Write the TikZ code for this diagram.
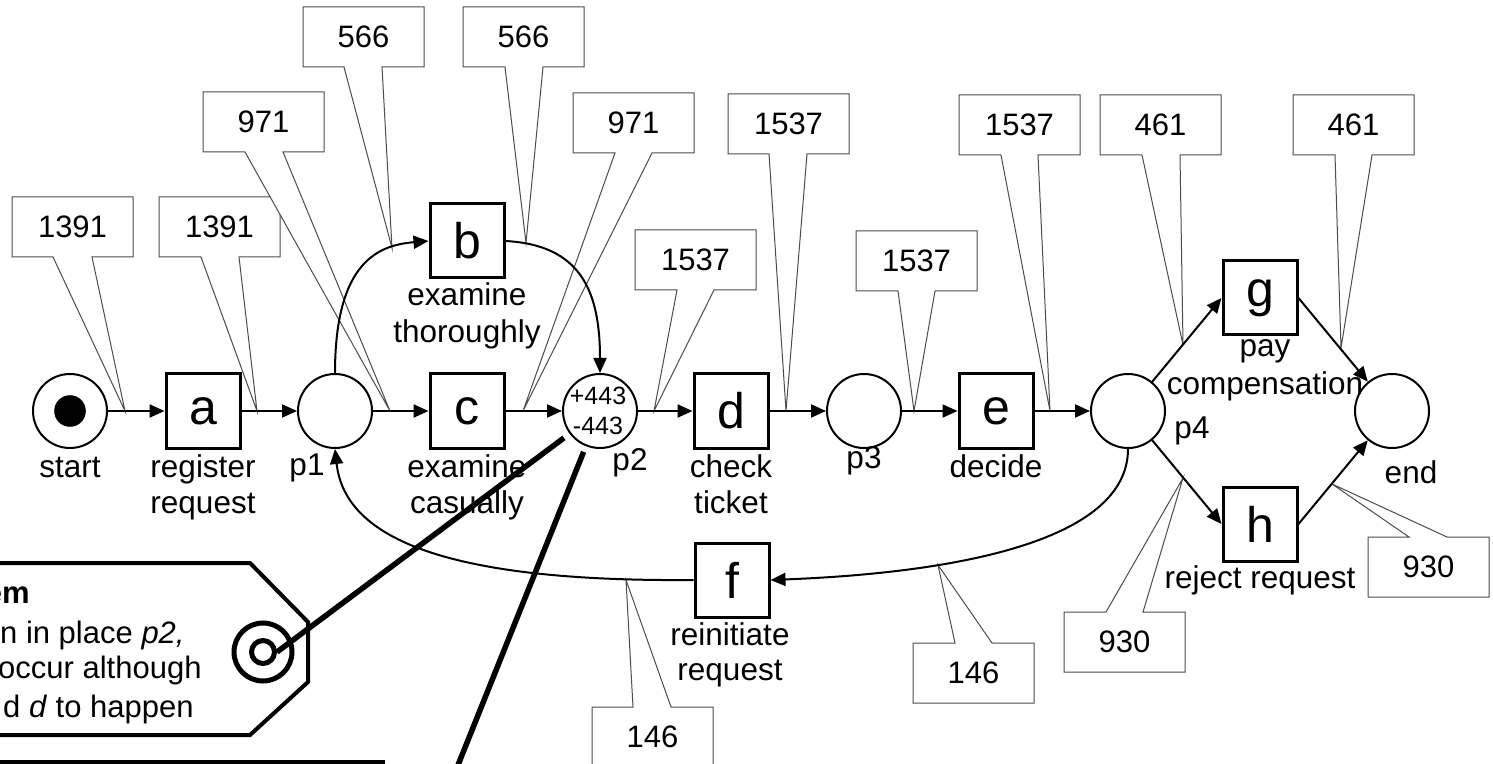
\documentclass[tikz,border=0pt]{standalone}
\usepackage{fontspec}
\setmainfont{Liberation Sans}
\usetikzlibrary{arrows.meta}
\newcommand{\calloutB}[8]{%
  \coordinate (#1tip) at (#6,#7);
  \filldraw[calloutline] (#2,#3) -- ({#2+121},#3) -- ({#2+121},{#3+60}) -- (#5,{#3+60}) -- (#1tip) -- (#4,{#3+60}) -- (#2,{#3+60}) -- cycle;
  \node[numtext] (#1) at ({#2+60.5},{#3+30}) {#8};
}
\newcommand{\calloutT}[8]{%
  \coordinate (#1tip) at (#6,#7);
  \filldraw[calloutline] (#2,#3) -- (#4,#3) -- (#1tip) -- (#5,#3) -- ({#2+121},#3) -- ({#2+121},{#3+60}) -- (#2,{#3+60}) -- cycle;
  \node[numtext] (#1) at ({#2+60.5},{#3+30}) {#8};
}
\tikzset{
  place/.style={circle, draw, line width=1pt, minimum size=37pt, inner sep=0pt, fill=white},
  trans/.style={rectangle, draw, line width=1.5pt, minimum size=37pt, inner sep=0pt, fill=white, font=\fontsize{25}{28}\selectfont},
  pnarc/.style={line width=1pt, -{Triangle[length=7.5pt,width=6.5pt]}},
  lbl/.style={anchor=base, inner sep=0pt, font=\fontsize{15.75}{18}\selectfont},
  numtext/.style={inner sep=0pt, font=\fontsize{15.5}{18}\selectfont},
  calloutline/.style={draw=black!70, fill=white, line width=0.5pt},
  tagtext/.style={anchor=base east, inner sep=0pt, font=\fontsize{15.5}{18}\selectfont},
  tagline/.style={line width=2pt, line join=miter},
  thickline/.style={line width=2.75pt},
}
\begin{document}
\begin{tikzpicture}[x=0.5pt, y=-0.5pt]
\useasboundingbox (0,0) rectangle (1493,764);
\clip (0,0) rectangle (1493,764);
\fill[white] (0,0) rectangle (1493,764);

% frequency callouts
\calloutB{n1}{12}{197}{53}{92}{125}{411}{1391}
\calloutB{n2}{159}{197}{201}{239}{257}{411}{1391}
\calloutB{n3}{203}{92}{245}{283}{390}{411}{971}
\calloutB{n4}{303}{7}{344}{382}{392}{248}{566}
\calloutB{n5}{463}{7}{505}{543}{526}{243}{566}
\calloutB{n6}{573}{93}{615}{652}{523}{411}{971}
\calloutB{n7}{635}{230}{677}{714}{654}{411}{1537}
\calloutB{n8}{728}{94}{769}{807}{786}{411}{1537}
\calloutB{n9}{856}{231}{898}{935}{914}{411}{1537}
\calloutB{n10}{959}{95}{1001}{1038}{1050}{411}{1537}
\calloutB{n11}{1100}{95}{1142}{1180}{1183}{345}{461}
\calloutB{n12}{1293}{95}{1335}{1372}{1341}{348}{461}
\calloutT{n13}{1368}{537}{1409}{1447}{1332}{484}{930}
\calloutT{n14}{1064}{612}{1106}{1143}{1183}{478}{930}
\calloutT{n15}{913}{643}{955}{992}{938}{565}{146}
\calloutT{n16}{592}{707}{633}{671}{626}{580}{146}

% places and transitions
\node[place] (start) at (70,411) {};
\node[circle, fill=black, minimum size=15.8pt, inner sep=0pt] (tok) at (70,411) {};
\node[trans] (a) at (203,411) {a};
\node[place] (p1) at (335,411) {};
\node[trans] (b) at (467,241) {b};
\node[trans] (c) at (467,411) {c};
\node[place] (p2) at (600,411) {};
\node[trans] (d) at (731,411) {d};
\node[place] (p3) at (864,411) {};
\node[trans] (e) at (996,411) {e};
\node[place] (p4) at (1128,411) {};
\node[trans] (g) at (1260,298) {g};
\node[trans] (h) at (1260,524) {h};
\node[place] (end) at (1392,411) {};
\node[trans] (f) at (732,580) {f};

% counts inside p2
\node[anchor=base, inner sep=0pt, font=\fontsize{12.5}{14}\selectfont] (plus) at (598,405) {+443};
\node[anchor=base, inner sep=0pt, font=\fontsize{12.5}{14}\selectfont] (minus) at (598,435) {-443};

% arcs
\draw[pnarc] (start) -- (a);
\draw[pnarc] (a) -- (p1);
\draw[pnarc] (p1) -- (c);
\draw[pnarc] (c) -- (p2);
\draw[pnarc] (p2) -- (d);
\draw[pnarc] (d) -- (p3);
\draw[pnarc] (p3) -- (e);
\draw[pnarc] (e) -- (p4);
\draw[pnarc] (p1.north) .. controls (335,260) and (380,245) .. (b.west);
\draw[pnarc] (b.east) .. controls (580,245) and (600,290) .. (p2.north);
\draw[pnarc] (p4) -- (g.west);
\draw[pnarc] (p4) -- (h.west);
\draw[pnarc] (g.east) -- (end);
\draw[pnarc] (h.east) -- (end);
\draw[pnarc] (p4.south) .. controls (1128,555) and (900,575) .. (f.east);
\draw[pnarc] (f.west) .. controls (450,582) and (345,540) .. (p1.south);

% labels
\node[lbl] (lstart) at (70,477) {start};
\node[lbl] (la1) at (203,477) {register};
\node[lbl] (la2) at (203,513) {request};
\node[lbl] (lp1) at (307,475) {p1};
\node[lbl] (lb1) at (467,306) {examine};
\node[lbl] (lb2) at (467,343) {thoroughly};
\node[lbl] (lc1) at (467,477) {examine};
\node[lbl] (lc2) at (467,513) {casually};
\node[lbl] (lp2) at (630,470) {p2};
\node[lbl] (ld1) at (731,477) {check};
\node[lbl] (ld2) at (731,513) {ticket};
\node[lbl] (lp3) at (864,468) {p3};
\node[lbl] (le) at (996,477) {decide};
\node[lbl] (lg1) at (1265,357) {pay};
\node[lbl] (lg2) at (1265,394) {compensation};
\node[lbl] (lp4) at (1192,438) {p4};
\node[lbl] (lend) at (1411,483) {end};
\node[lbl] (lh) at (1260,588) {reject request};
\node[lbl] (lf1) at (730,645) {reinitiate};
\node[lbl] (lf2) at (730,680) {request};

% problem tag
\draw[tagline, fill=white] (-10,563) -- (250,563) -- (308,622) -- (308,682) -- (250,735) -- (-10,735);
\node[tagtext] (t1) at (30,603) {\textbf{em}};
\node[tagtext] (t2) at (185,643) {n in place \textit{p2,}};
\node[tagtext] (t3) at (202,678) {occur although};
\node[tagtext] (t4) at (194,717) {d \textit{d} to happen};
\node[circle, draw, line width=2.5pt, minimum size=29pt, inner sep=0pt] (ringO) at (263,652) {};
\node[circle, draw, line width=2.5pt, minimum size=11.5pt, inner sep=0pt] (ringI) at (263,652) {};
\draw[tagline] (-10,820) -- (-10,762) -- (383,762) -- (383,820);
\coordinate (ext2) at (440,810);
\draw[thickline, shorten >=3.5pt] (ringI.east) -- (p2);
\draw[thickline, shorten <=3pt] (p2) -- (ext2);
\end{tikzpicture}
\end{document}
